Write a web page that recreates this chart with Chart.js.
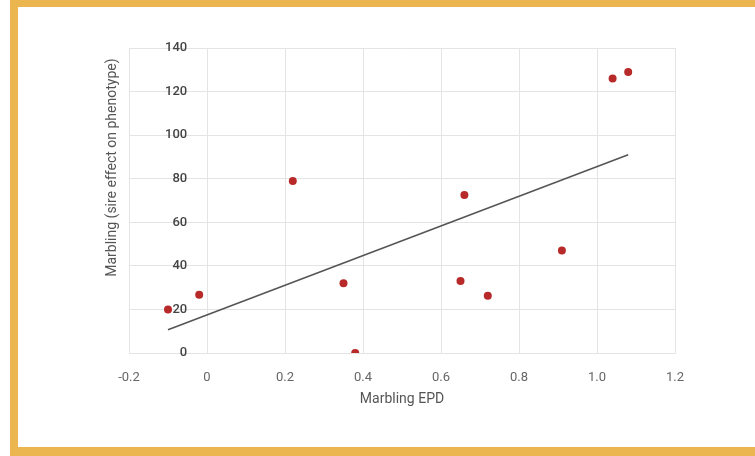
<!DOCTYPE html>
<html lang="en">
<head>
    <meta charset="UTF-8">
    <title>Marbling EPD</title>
    <script src="https://cdn.jsdelivr.net/npm/chart.js"></script>
    <style>
        html, body { margin: 0; padding: 0; background: #fff; }
        body { width: 755px; height: 456px; position: relative; overflow: hidden; }
        .cadre {
            position: absolute; left: 10px; top: 0; width: 800px; height: 440px;
            border-left: 8px solid #ebb54f; border-top: 7px solid #ebb54f; border-bottom: 9px solid #ebb54f;
        }
        .graphe { position: absolute; left: 0; top: 0; width: 755px; height: 456px; }
    </style>
</head>
<body>
    <div class="cadre"></div>
    <div class="graphe"><canvas id="chartMarbling"></canvas></div>
    <script>
        // Valeurs
        const epd = [-0.10, -0.02, 0.22, 0.35, 0.38, 0.65, 0.66, 0.72, 0.91, 1.04, 1.08];
        const marbling = [20, 26.7, 79, 32, 0, 33, 72.5, 26.3, 47, 126, 129];
        const trendX = [-0.10, 1.08];
        const trendY = [10.7, 91];
        const xTicks = [-0.2, 0, 0.2, 0.4, 0.6, 0.8, 1, 1.2];
        const yTicks = [0, 20, 40, 60, 80, 100, 120, 140];

        const points = epd.map((x, i) => ({ x: x, y: marbling[i] }));
        const trend = trendX.map((x, i) => ({ x: x, y: trendY[i] }));

        const ctx = document.getElementById('chartMarbling').getContext('2d');
        new Chart(ctx, {
            type: 'scatter',
            data: {
                datasets: [{
                    type: 'line',
                    label: 'Tendance',
                    data: trend,
                    borderColor: '#555555',
                    borderWidth: 1.6,
                    pointRadius: 0,
                    fill: false
                }, {
                    label: 'Marbling',
                    data: points,
                    backgroundColor: '#b82a2a',
                    borderColor: '#b82a2a',
                    pointRadius: 4,
                    pointBorderWidth: 0
                }]
            },
            options: {
                responsive: true,
                maintainAspectRatio: false,
                animation: false,
                layout: { padding: { left: 97, right: 80, top: 48, bottom: 40 } },
                plugins: {
                    legend: { display: false },
                    tooltip: { enabled: false }
                },
                scales: {
                    x: {
                        type: 'linear',
                        min: -0.2,
                        max: 1.2,
                        afterBuildTicks: (s) => { s.ticks = xTicks.map(v => ({ value: v })); },
                        afterFit: (s) => { s.height = 63; },
                        grid: { color: '#e4e4e4', drawTicks: false },
                        border: { color: '#e4e4e4' },
                        ticks: { color: '#666', padding: 17, font: { family: 'Roboto', size: 13 } },
                        title: {
                            display: true,
                            text: 'Marbling EPD',
                            color: '#555',
                            padding: { top: 0, bottom: 8 },
                            font: { family: 'Roboto', size: 14 }
                        }
                    },
                    y: {
                        type: 'linear',
                        min: 0,
                        max: 140,
                        afterBuildTicks: (s) => { s.ticks = yTicks.map(v => ({ value: v })); },
                        afterFit: (s) => { s.width = 32; },
                        grid: { color: '#e4e4e4', drawTicks: false },
                        border: { color: '#e4e4e4' },
                        ticks: {
                            mirror: true,
                            crossAlign: 'far',
                            padding: 36,
                            color: '#444',
                            font: { family: 'Roboto', size: 13, weight: '500' }
                        },
                        title: {
                            display: true,
                            align: 'end',
                            // espaces en fin pour descendre un peu le titre
                            text: 'Marbling (sire effect on phenotype)\u00a0\u00a0\u00a0',
                            color: '#555',
                            padding: { top: 7, bottom: 0 },
                            font: { family: 'Roboto', size: 14 }
                        }
                    }
                }
            }
        });
    </script>
</body>
</html>
